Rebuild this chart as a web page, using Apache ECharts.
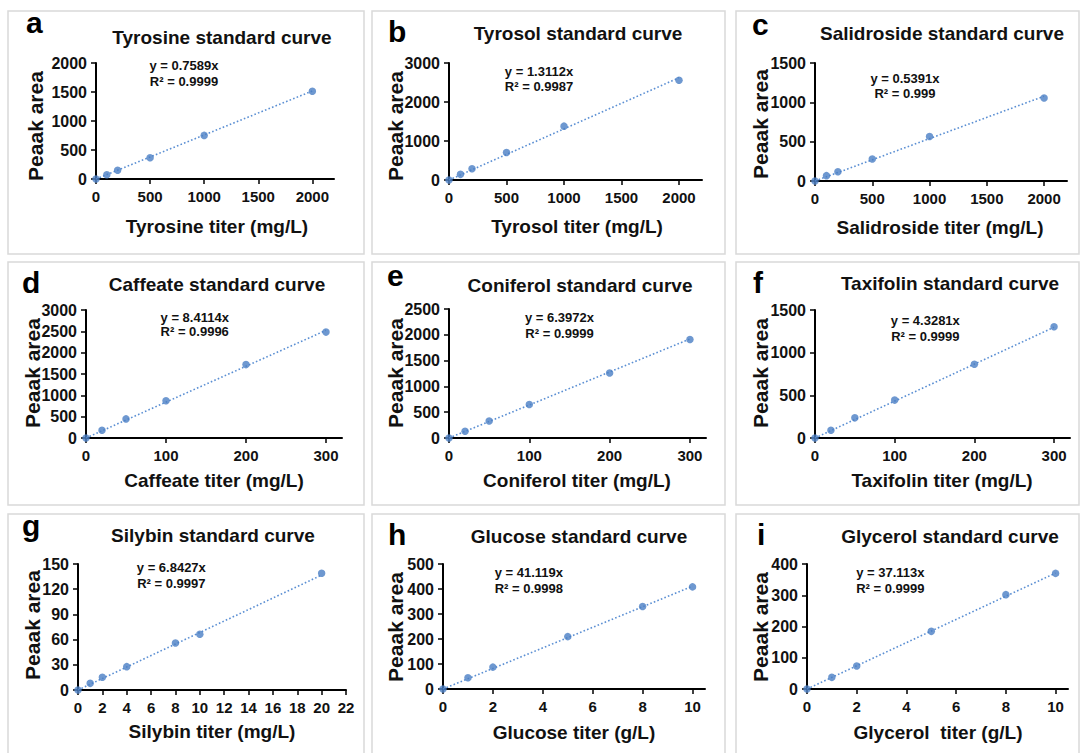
<!DOCTYPE html>
<html>
<head>
<meta charset="utf-8">
<script src="https://cdn.jsdelivr.net/npm/echarts@6/dist/echarts.min.js"></script>
<style>
html,body{margin:0;padding:0;background:#fff;}
#chart{width:1080px;height:753px;}
</style>
</head>
<body>
<div id="chart"></div>
<script>
// ---------------- data ----------------
const tyrosineX = [0, 100, 200, 500, 1000, 2000];
const tyrosineY = [0, 72, 152, 365, 752, 1512];
const tyrosolX = [0, 100, 200, 500, 1000, 2000];
const tyrosolY = [0, 145, 290, 707, 1381, 2557];
const salidrosideX = [0, 100, 200, 500, 1000, 2000];
const salidrosideY = [0, 68, 118, 279, 566, 1056];
const caffeateX = [0, 20, 50, 100, 200, 300];
const caffeateY = [0, 181, 448, 872, 1720, 2482];
const coniferolX = [0, 20, 50, 100, 200, 300];
const coniferolY = [0, 130, 331, 649, 1260, 1909];
const taxifolinX = [0, 20, 50, 100, 200, 300];
const taxifolinY = [0, 90, 236, 444, 864, 1304];
const silybinX = [0, 1, 2, 4, 8, 10, 20];
const silybinY = [0, 7.9, 15.1, 27.8, 55.9, 66.3, 138.9];
const glucoseX = [0, 1, 2, 5, 8, 10];
const glucoseY = [0, 45, 87.5, 209.5, 330, 408.5];
const glycerolX = [0, 1, 2, 5, 8, 10];
const glycerolY = [0, 37.3, 73.6, 184.5, 301.9, 370];

const panelLetters = ['a', 'b', 'c', 'd', 'e', 'f', 'g', 'h', 'i'];
const panelTitles = [
  'Tyrosine standard curve', 'Tyrosol standard curve', 'Salidroside standard curve',
  'Caffeate standard curve', 'Coniferol standard curve', 'Taxifolin standard curve',
  'Silybin standard curve', 'Glucose standard curve', 'Glycerol standard curve'
];
const xAxisNames = [
  'Tyrosine titer (mg/L)', 'Tyrosol titer (mg/L)', 'Salidroside titer (mg/L)',
  'Caffeate titer (mg/L)', 'Coniferol titer (mg/L)', 'Taxifolin titer (mg/L)',
  'Silybin titer (mg/L)', 'Glucose titer (g/L)', 'Glycerol  titer (g/L)'
];
const yAxisName = 'Peaak area';
const slopes = ['0.7589', '1.3112', '0.5391', '8.4114', '6.3972', '4.3281', '6.8427', '41.119', '37.113'];
const rSquared = ['0.9999', '0.9987', '0.999', '0.9996', '0.9999', '0.9999', '0.9997', '0.9998', '0.9999'];

const xTicksMg2000 = [0, 500, 1000, 1500, 2000];
const xTicksMg300 = [0, 100, 200, 300];
const xTicksSilybin = [0, 2, 4, 6, 8, 10, 12, 14, 16, 18, 20, 22];
const xTicksGL = [0, 2, 4, 6, 8, 10];
const yTicksA = [0, 500, 1000, 1500, 2000];
const yTicksB = [0, 1000, 2000, 3000];
const yTicksC = [0, 500, 1000, 1500];
const yTicksD = [0, 500, 1000, 1500, 2000, 2500, 3000];
const yTicksE = [0, 500, 1000, 1500, 2000, 2500];
const yTicksF = [0, 500, 1000, 1500];
const yTicksG = [0, 30, 60, 90, 120, 150];
const yTicksH = [0, 100, 200, 300, 400, 500];
const yTicksI = [0, 100, 200, 300, 400];

const seriesX = [tyrosineX, tyrosolX, salidrosideX, caffeateX, coniferolX, taxifolinX, silybinX, glucoseX, glycerolX];
const seriesY = [tyrosineY, tyrosolY, salidrosideY, caffeateY, coniferolY, taxifolinY, silybinY, glucoseY, glycerolY];
const xTicks = [xTicksMg2000, xTicksMg2000, xTicksMg2000, xTicksMg300, xTicksMg300, xTicksMg300, xTicksSilybin, xTicksGL, xTicksGL];
const yTicks = [yTicksA, yTicksB, yTicksC, yTicksD, yTicksE, yTicksF, yTicksG, yTicksH, yTicksI];

// ---------------- layout (pixels) ----------------
const xAxisMax = [2200, 2200, 2200, 320, 320, 320, 22, 10.5, 10.5];
const grids = [
  [96, 63, 238, 116], [449, 63, 253, 117], [815, 63, 252, 118],
  [86, 310, 256, 128], [449, 309, 257, 129], [815, 310, 255, 128],
  [78, 564, 268, 126], [443, 564, 262, 125], [807, 564, 261, 125]
];
const titlePos = [[222, 37], [578, 33], [942, 33], [217, 284], [580, 285], [950, 283], [213, 535], [579, 536], [950, 536]];
const letterPos = [[26, 33.3], [388, 41.7], [752, 35], [22, 292.7], [387, 286], [753, 292.7], [22, 536], [388, 545.3], [757, 545.3]];
const eqPos = [[184, 65.7, 81.7], [539, 71, 86], [905, 78.3, 93.3], [194.7, 317.7, 331.7], [559.5, 317.7, 333],
               [925.3, 320.3, 336], [171.3, 567.7, 583.3], [528.8, 572.7, 588], [890.3, 572.7, 588]];
const xNamePos = [[217, 226], [577, 226], [940, 227.5], [214, 480], [577, 480], [942, 480], [212, 731], [574, 732], [938, 732]];
const yNamePos = [[35, 126], [395, 126], [760, 124], [32, 373], [395, 373], [760, 373], [32, 625], [395, 627], [760, 627]];
const frames = [
  [8, 11, 356, 243], [372, 11, 353, 243], [736, 11, 343, 243],
  [8, 262, 356, 243], [372, 262, 353, 243], [736, 262, 343, 243],
  [8, 514, 356, 240], [372, 514, 353, 240], [736, 514, 343, 240]
];

const FONT = '"Liberation Sans", Arial, Helvetica, sans-serif';
const INK = '#111111';
const DOT = '#4A7EC4';
const TREND = '#5B8FD3';

const gridOpt = [], xAxes = [], yAxes = [], series = [], graphics = [];

frames.forEach(f => graphics.push({
  type: 'rect', z: 0, silent: true,
  shape: { x: f[0], y: f[1], width: f[2], height: f[3] },
  style: { fill: 'none', stroke: '#d9d9d9', lineWidth: 1.5 }
}));

const plain = v => String(v);

for (let i = 0; i < 9; i++) {
  const g = grids[i];
  gridOpt.push({ left: g[0], top: g[1], width: g[2], height: g[3], containLabel: false, outerBoundsMode: 'none' });
  xAxes.push({
    type: 'value', gridIndex: i, min: 0, max: xAxisMax[i],
    axisLine: { show: true, onZero: false, lineStyle: { color: '#000', width: 2 } },
    axisTick: { show: true, customValues: xTicks[i], length: 5, lineStyle: { color: '#000', width: 1.5 } },
    axisLabel: { customValues: xTicks[i], margin: 10, formatter: plain,
                 fontFamily: FONT, fontWeight: 'bold', fontSize: 15, color: INK },
    splitLine: { show: false }
  });
  const yt = yTicks[i];
  yAxes.push({
    type: 'value', gridIndex: i, min: 0, max: yt[yt.length - 1],
    axisLine: { show: true, onZero: false, lineStyle: { color: '#000', width: 2 } },
    axisTick: { show: true, customValues: yt, length: 5, lineStyle: { color: '#000', width: 1.5 } },
    axisLabel: { customValues: yt, margin: 9, formatter: plain,
                 fontFamily: FONT, fontWeight: 'bold', fontSize: 16, color: INK },
    splitLine: { show: false }
  });
  const xs = seriesX[i], ys = seriesY[i];
  const xEnd = xs[xs.length - 1];
  series.push({
    type: 'line', xAxisIndex: i, yAxisIndex: i, z: 2,
    data: [[0, 0], [xEnd, parseFloat(slopes[i]) * xEnd]],
    showSymbol: false, symbol: 'none', silent: true,
    lineStyle: { color: TREND, width: 1.6, type: [1.6, 2.2] }
  });
  series.push({
    type: 'scatter', xAxisIndex: i, yAxisIndex: i, z: 3, clip: false,
    data: xs.map((x, k) => [x, ys[k]]),
    symbol: 'circle', symbolSize: 7.5,
    itemStyle: { color: DOT }
  });

  graphics.push({
    type: 'text', x: letterPos[i][0], y: letterPos[i][1] - 10.5, z: 10,
    style: { text: panelLetters[i], font: 'bold 30px ' + FONT, fill: '#000', align: 'left', verticalAlign: 'middle' }
  });
  graphics.push({
    type: 'text', x: titlePos[i][0], y: titlePos[i][1], z: 10,
    style: { text: panelTitles[i], font: 'bold 19px ' + FONT, fill: INK, align: 'center', verticalAlign: 'middle' }
  });
  graphics.push({
    type: 'text', x: eqPos[i][0], y: eqPos[i][1], z: 10,
    style: { text: 'y = ' + slopes[i] + 'x', font: 'bold 13px ' + FONT, fill: INK, align: 'center', verticalAlign: 'middle' }
  });
  graphics.push({
    type: 'text', x: eqPos[i][0], y: eqPos[i][2], z: 10,
    style: { text: 'R² = ' + rSquared[i], font: 'bold 13px ' + FONT, fill: INK, align: 'center', verticalAlign: 'middle' }
  });
  graphics.push({
    type: 'text', x: xNamePos[i][0], y: xNamePos[i][1], z: 10,
    style: { text: xAxisNames[i], font: 'bold 19px ' + FONT, fill: INK, align: 'center', verticalAlign: 'middle' }
  });
  graphics.push({
    type: 'text', x: yNamePos[i][0], y: yNamePos[i][1], rotation: Math.PI / 2, z: 10,
    style: { text: yAxisName, font: 'bold 21px ' + FONT, fill: INK, align: 'center', verticalAlign: 'middle' }
  });
}

const chart = echarts.init(document.getElementById('chart'), null, { renderer: 'svg', width: 1080, height: 753 });
chart.setOption({
  backgroundColor: '#ffffff',
  animation: false,
  grid: gridOpt,
  xAxis: xAxes,
  yAxis: yAxes,
  series: series,
  graphic: { elements: graphics }
});
</script>
</body>
</html>
